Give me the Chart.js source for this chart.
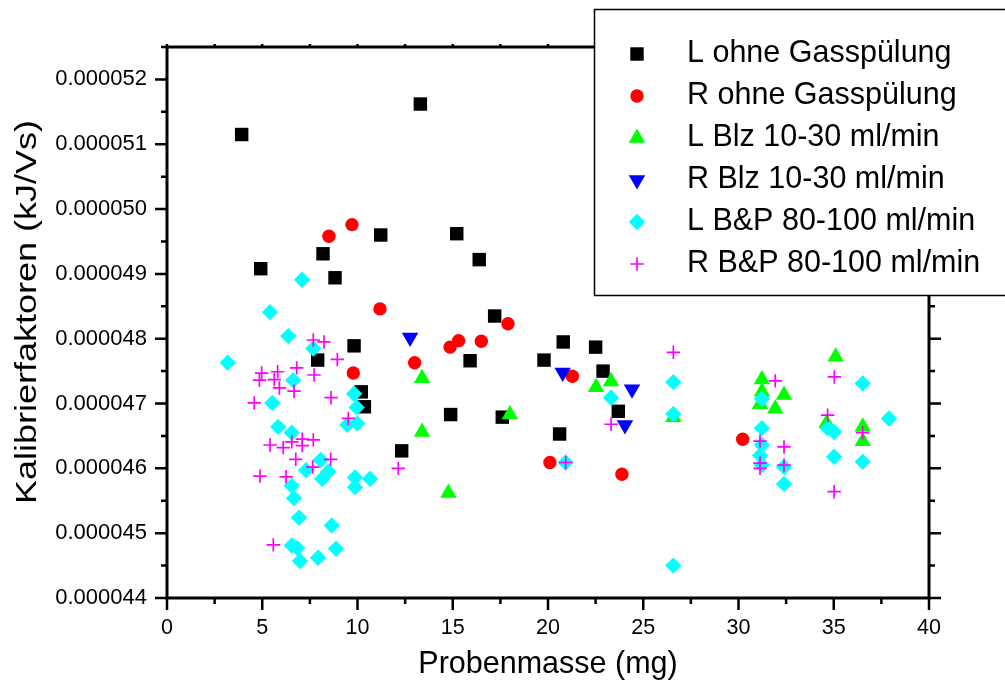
<!DOCTYPE html>
<html>
<head>
<meta charset="utf-8">
<script src="https://cdn.jsdelivr.net/npm/chart.js@4.4.1/dist/chart.umd.min.js"></script>
<style>
  html, body { margin: 0; padding: 0; background: #fff; }
  #wrap { width: 1005px; height: 688px; }
</style>
</head>
<body>
<div id="wrap"><canvas id="myChart" width="1005" height="688"></canvas></div>
<script>
"use strict";
// values (x in mg, y in kJ/Vs)
var seriesNames = ["L ohne Gasspülung", "R ohne Gasspülung", "L Blz 10-30 ml/min",
    "R Blz 10-30 ml/min", "L B&P 80-100 ml/min", "R B&P 80-100 ml/min"];

var lOhneX = [3.92, 4.92, 8.19, 8.82, 7.91, 9.82, 10.2, 10.36, 11.22, 12.32, 13.3, 14.89,
    15.21, 16.39, 15.91, 17.2, 17.6, 19.79, 20.8, 20.61, 22.5, 22.89, 23.69];
var lOhneY = [0.00005115, 0.00004908, 0.00004931, 0.00004894, 0.00004767, 0.00004789, 0.00004718,
    0.00004695, 0.00004960, 0.00004627, 0.00005162, 0.00004683, 0.00004962, 0.00004922, 0.00004766,
    0.00004835, 0.00004679, 0.00004767, 0.00004795, 0.00004653, 0.00004787, 0.00004750, 0.00004688];

var rOhneX = [8.5, 9.71, 11.18, 9.78, 13.0, 14.86, 15.31, 16.5, 17.9, 21.28, 20.1, 23.88, 30.22];
var rOhneY = [0.00004958, 0.00004976, 0.00004846, 0.00004747, 0.00004763, 0.00004787, 0.00004797,
    0.00004796, 0.00004823, 0.00004742, 0.00004609, 0.00004591, 0.00004645];

var lBlzX = [13.39, 13.39, 14.77, 18.0, 22.52, 23.31, 26.58, 31.23, 31.23, 31.13, 32.39, 31.93,
    35.1, 34.63, 36.52, 36.52];
var lBlzY = [0.00004739, 0.00004656, 0.00004562, 0.00004683, 0.00004725, 0.00004734, 0.00004679,
    0.00004737, 0.00004718, 0.00004699, 0.00004713, 0.00004692, 0.00004772, 0.00004670, 0.00004664,
    0.00004642];

var rBlzX = [12.76, 20.77, 24.41, 24.04];
var rBlzY = [0.00004802, 0.00004748, 0.00004722, 0.00004667];

var lBpX = [7.09, 5.41, 6.37, 7.68, 3.19, 6.63, 9.82, 5.53, 9.96, 5.84, 6.55, 9.46, 9.99, 8.07,
    7.3, 8.47, 8.15, 9.87, 10.66, 9.87, 6.55, 6.67, 6.93, 8.65, 6.55, 6.84, 8.87, 6.98, 7.93,
    26.58, 23.31, 26.58, 20.93, 26.58, 31.23, 31.23, 36.52, 37.9, 34.68, 35.02, 31.23, 31.13,
    35.02, 36.52, 31.23, 32.39, 32.39];
var lBpY = [0.00004891, 0.00004841, 0.00004804, 0.00004785, 0.00004763, 0.00004736, 0.00004715,
    0.00004701, 0.00004694, 0.00004664, 0.00004655, 0.00004667, 0.00004669, 0.00004613, 0.00004597,
    0.00004595, 0.00004584, 0.00004586, 0.00004584, 0.00004571, 0.00004573, 0.00004554, 0.00004524,
    0.00004512, 0.00004481, 0.00004477, 0.00004476, 0.00004457, 0.00004462,
    0.00004733, 0.00004709, 0.00004684, 0.00004609, 0.00004450, 0.00004707, 0.00004662, 0.00004731,
    0.00004677, 0.00004662, 0.00004656, 0.00004636, 0.00004620, 0.00004618, 0.00004610, 0.00004605,
    0.00004602, 0.00004576];

var rBpX = [7.68, 8.24, 8.94, 4.97, 4.85, 5.81, 5.63, 6.81, 7.72, 5.9, 6.67, 8.61, 4.58, 9.52,
    5.41, 6.1, 6.55, 7.1, 7.1, 7.68, 6.76, 8.59, 7.65, 4.88, 6.25, 12.14, 5.58,
    26.58, 23.31, 20.93, 31.93, 35.03, 34.68, 36.52, 31.13, 32.39, 31.13, 31.13, 32.39, 35.02];
var rBpY = [0.00004798, 0.00004795, 0.00004768, 0.00004747, 0.00004736, 0.00004749, 0.00004737,
    0.00004755, 0.00004744, 0.00004724, 0.00004719, 0.00004709, 0.00004701, 0.00004677, 0.00004636,
    0.00004632, 0.00004641, 0.00004645, 0.00004635, 0.00004644, 0.00004614, 0.00004614, 0.00004602,
    0.00004588, 0.00004587, 0.00004600, 0.00004482,
    0.00004779, 0.00004668, 0.00004609, 0.00004735, 0.00004741, 0.00004682, 0.00004655, 0.00004642,
    0.00004633, 0.00004608, 0.00004600, 0.00004605, 0.00004564];

var xTicks = [0, 5, 10, 15, 20, 25, 30, 35, 40];
var yTicks = [0.000044, 0.000045, 0.000046, 0.000047, 0.000048, 0.000049, 0.000050, 0.000051, 0.000052];
var yTitle = "Kalibrierfaktoren (kJ/Vs)";

var FONT = "'Liberation Sans', Arial, sans-serif";

function pts(xs, ys) {
    return xs.map(function (x, i) { return { x: x, y: ys[i] }; });
}

function series(i, xs, ys, color, style, radius, rotation, order) {
    var isCross = style === "cross";
    return {
        label: seriesNames[i],
        data: pts(xs, ys),
        backgroundColor: color,
        borderColor: color,
        borderWidth: isCross ? 1.7 : 0,
        pointStyle: style,
        pointRadius: radius,
        pointRotation: rotation,
        order: order
    };
}

var datasets = [
    series(0, lOhneX, lOhneY, "#000000", "rect", 9.5, 0, 6),
    series(1, rOhneX, rOhneY, "#ff0000", "circle", 6.7, 0, 5),
    series(2, lBlzX, lBlzY, "#00ff00", "triangle", 9.5, 0, 4),
    series(3, rBlzX, rBlzY, "#0000ff", "triangle", 9.5, 180, 3),
    series(4, lBpX, lBpY, "#00ffff", "rectRot", 8.2, 0, 2),
    series(5, rBpX, rBpY, "#ff00ff", "cross", 6.7, 0, 1)
];

// axes frame with major and minor ticks
var framePlugin = {
    id: "frame",
    afterDatasetsDraw: function (chart) {
        var ctx = chart.ctx, a = chart.chartArea;
        var xs = chart.scales.x, ys = chart.scales.y;
        ctx.save();
        ctx.strokeStyle = "#000";
        ctx.lineWidth = 3;
        ctx.strokeRect(a.left, a.top, a.right - a.left, a.bottom - a.top);
        ctx.lineWidth = 2.5;
        ctx.beginPath();
        var v, p, len;
        for (v = 0; v <= 40.001; v += 2.5) {
            p = xs.getPixelForValue(v);
            len = (Math.round(v / 2.5) % 2 === 0) ? 12 : 6;
            ctx.moveTo(p, a.bottom); ctx.lineTo(p, a.bottom + len);
            ctx.moveTo(p, a.top); ctx.lineTo(p, a.top - 3);
        }
        for (v = 44; v <= 52.5001; v += 0.5) {
            p = ys.getPixelForValue(v * 1e-6);
            len = (Math.round(v * 2) % 2 === 0) ? 12 : 6;
            ctx.moveTo(a.left, p); ctx.lineTo(a.left - len, p);
            ctx.moveTo(a.right, p); ctx.lineTo(a.right + len, p);
        }
        ctx.stroke();

        // y axis title, a little stretched along its length like the original
        ctx.translate(28, 312);
        ctx.rotate(-Math.PI / 2);
        ctx.scale(1.2, 1);
        ctx.fillStyle = "#000";
        ctx.font = "30px " + FONT;
        ctx.textAlign = "center";
        ctx.textBaseline = "middle";
        ctx.fillText(yTitle, 0, 0);
        ctx.restore();
    }
};

// boxed legend in the upper right, drawn over the frame
var legendPlugin = {
    id: "boxLegend",
    afterDraw: function (chart) {
        var ctx = chart.ctx;
        ctx.save();
        ctx.fillStyle = "#fff";
        ctx.fillRect(594, 9, 430, 287);
        ctx.strokeStyle = "#000";
        ctx.lineWidth = 1.5;
        ctx.strokeRect(594.5, 9.5, 430, 286);
        chart.data.datasets.forEach(function (ds, i) {
            var y = 54 + i * 42;
            ctx.fillStyle = ds.backgroundColor;
            ctx.strokeStyle = ds.borderColor;
            ctx.lineWidth = ds.borderWidth;
            Chart.helpers.drawPoint(ctx, {
                pointStyle: ds.pointStyle,
                radius: ds.pointRadius,
                rotation: ds.pointRotation,
                borderWidth: ds.borderWidth
            }, 637, y);
            ctx.fillStyle = "#000";
            ctx.font = "30.5px " + FONT;
            ctx.textBaseline = "middle";
            ctx.textAlign = "left";
            ctx.fillText(ds.label, 687, y);
        });
        ctx.restore();
    }
};

var ctx = document.getElementById("myChart").getContext("2d");
var chart = new Chart(ctx, {
    type: "scatter",
    data: { datasets: datasets },
    plugins: [framePlugin, legendPlugin],
    options: {
        responsive: false,
        animation: false,
        devicePixelRatio: 1,
        events: [],
        layout: { padding: { left: 0, right: 76, top: 47, bottom: 0 } },
        plugins: { legend: { display: false }, tooltip: { enabled: false } },
        scales: {
            x: {
                type: "linear",
                min: 0,
                max: 40,
                afterBuildTicks: function (s) { s.ticks = xTicks.map(function (v) { return { value: v }; }); },
                afterFit: function (s) { s.height = 90; },
                grid: { display: false, drawTicks: false },
                border: { display: false },
                ticks: { color: "#000", padding: 17, font: { family: FONT, size: 21.5 }, maxRotation: 0 },
                title: { display: true, text: "Probenmasse (mg)", color: "#000",
                    font: { family: FONT, size: 30.5 }, padding: { top: 0, bottom: 5 } }
            },
            y: {
                type: "linear",
                min: 0.000044,
                max: 0.0000525,
                afterBuildTicks: function (s) { s.ticks = yTicks.map(function (v) { return { value: v }; }); },
                afterFit: function (s) { s.width = 167; },
                grid: { display: false, drawTicks: false },
                border: { display: false },
                ticks: { color: "#000", padding: 20, font: { family: FONT, size: 22 },
                    callback: function (v) { return v.toFixed(6); } },
                title: { display: false }
            }
        }
    }
});
</script>
</body>
</html>
